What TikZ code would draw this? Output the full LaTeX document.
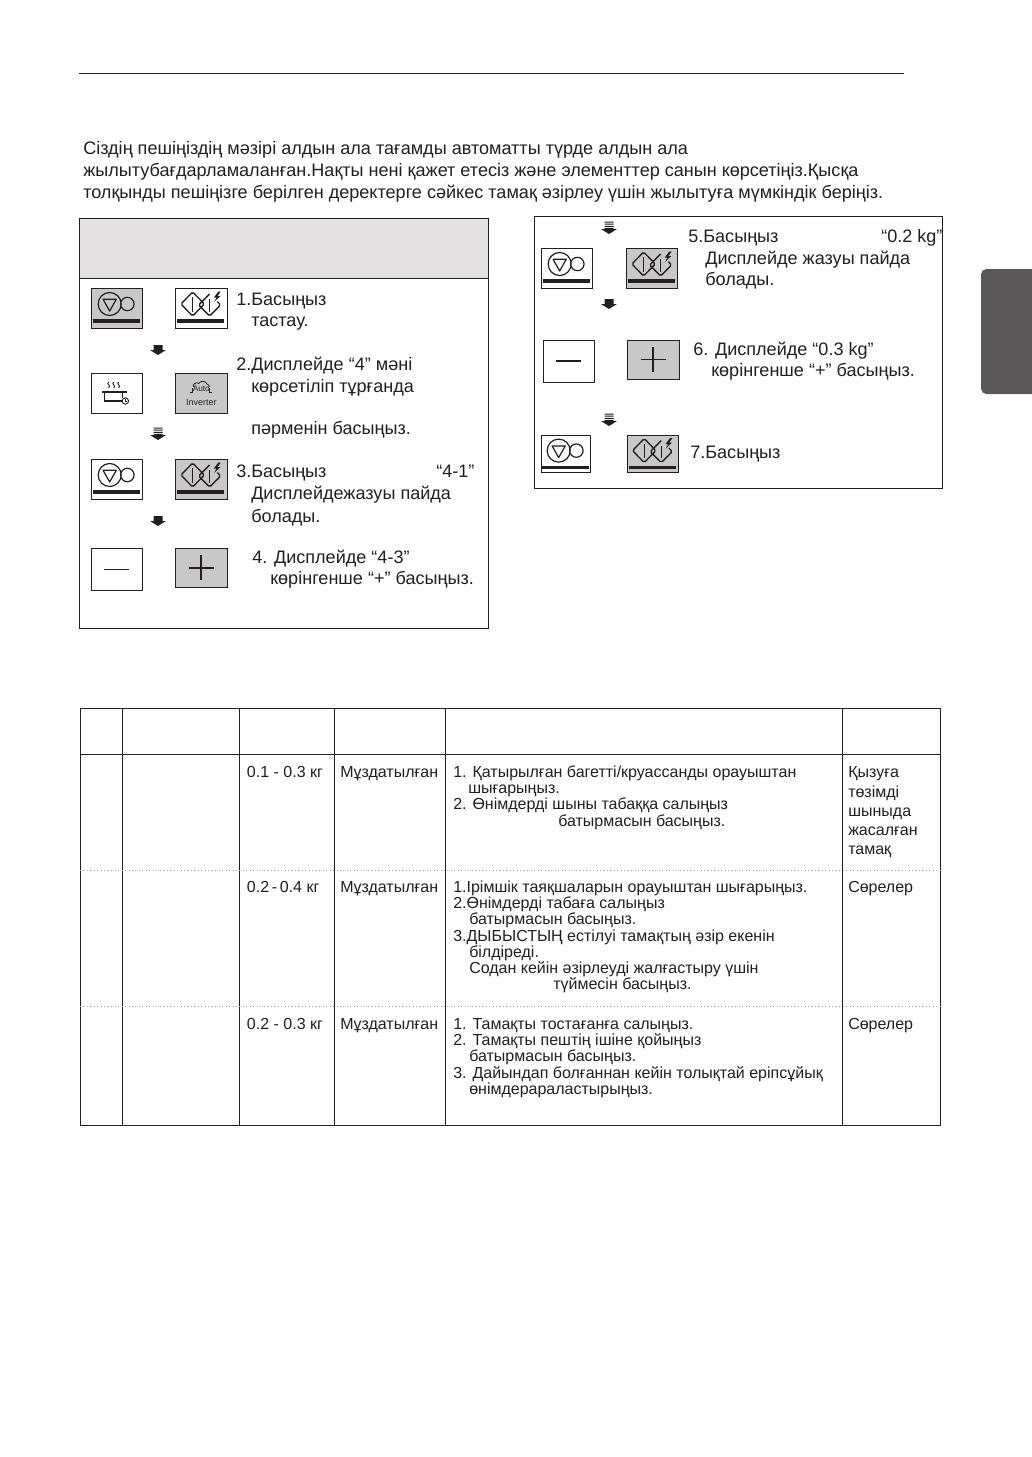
\documentclass[tikz,border=0pt]{standalone}
\usepackage{fontspec}
\setmainfont{Liberation Sans}
\usetikzlibrary{positioning}
\definecolor{ink}{HTML}{231F20}
\definecolor{btngray}{HTML}{C8C8C8}
\definecolor{headgray}{HTML}{E3E1E1}
\definecolor{tabgray}{HTML}{5B5859}
\tikzset{
  txt/.style={anchor=base west, inner sep=0pt, text=ink, font=\fontsize{13.55}{15}\selectfont},
  cell/.style={anchor=base west, inner sep=0pt, text=ink, font=\fontsize{12}{14}\selectfont},
  btn/.style={draw=ink, line width=0.7pt, anchor=north west, inner sep=0pt, outer sep=0pt, minimum width=38.5pt, minimum height=30pt},
  btnon/.style={btn, fill=btngray},
  rule/.style={draw=ink, line width=0.75pt},
  dotrule/.style={draw=gray!70, line width=0.6pt, dotted},
  stopicon/.pic={
    \draw[ink, line width=0.9pt] (-7,-4) circle[radius=11.5] (10.7,-4) circle[radius=6.7];
    \draw[ink, line width=0.9pt, line join=round] (-13.6,-8.7) -- (-0.4,-8.7) -- (-7,3) -- cycle;
    \draw[ink, line width=2.5pt] (-24,13) -- (23,13);
  },
  starticon/.pic={
    \draw[ink, line width=1pt, rounded corners=1.2pt] (8.3,-14) -- (-2.7,-3) -- (8.3,8) -- (19.3,-3) -- (16,-6.5);
    \draw[ink, line width=1pt, rounded corners=1.2pt] (-8.7,-16) -- (-20.4,-4) -- (-8.7,8) -- (3,-4) -- cycle;
    \draw[ink, line width=0.9pt] (-8.7,-11) -- (-8.7,3.5) (8.3,-9) -- (8.3,3.5);
    \fill[ink] (17,-16.5) -- (12.5,-10.5) -- (15.2,-10.5) -- (12.8,-6) -- (19,-12) -- (16.2,-12) -- (19.5,-16.5) -- cycle;
    \draw[ink, line width=2.5pt] (-24,13) -- (23,13);
  },
  poticon/.pic={
    \foreach \i in {-8,-3,2}
      \draw[ink, line width=0.7pt] (\i,-11) .. controls (\i-3,-9) and (\i+3,-7.5) .. (\i,-5);
    \draw[ink, line width=0.9pt] (-15,-1) -- (10,-1);
    \draw[ink, line width=0.9pt] (-12,-1) -- (-12,8) -- (5.5,8) (6,-1) -- (6,4.5);
    \draw[ink, line width=0.7pt] (8.7,8) circle[radius=3.2];
    \draw[ink, line width=0.5pt] (8.7,6) -- (8.7,8) -- (10.5,8);
  },
  autoicon/.pic={
    \draw[ink, line width=0.6pt] (-8,-6) .. controls (-9,-10) and (-4,-11) .. (-2.5,-9.5) .. controls (-1,-13) and (5,-12) .. (5.5,-9) .. controls (7,-9) and (8,-7.5) .. (8,-6);
    \draw[ink, line width=0.6pt] (-9,-5) -- (-9,-1) -- (-11.5,-1) (8.5,-5) -- (8.5,-1) -- (11,-1);
    \node[inner sep=0pt, text=ink, font=\fontsize{6.2}{7}\selectfont] (auto) at (0,-4) {Auto};
    \node[inner sep=0pt, text=ink, font=\fontsize{6.7}{7}\selectfont] (inverter) at (0,9) {Inverter};
  },
  minusicon/.pic={\draw[ink, line width=1.1pt] (-12.5,0) -- (12.5,0);},
  plusicon/.pic={\draw[ink, line width=1.4pt] (-12.5,0) -- (12.5,0) (0,-12.5) -- (0,12.5);},
  solidarrow/.pic={
    \fill[ink] (-4.5,-5) -- (4.5,-5) -- (4.5,0) -- (8,0) -- (0,5) -- (-8,0) -- (-4.5,0) -- cycle;
  },
  linedarrow/.pic={
    \fill[ink] (-4.5,-7.5) rectangle (4.5,-6.5) (-4.5,-5.3) rectangle (4.5,-4.3) (-4.5,-3.2) rectangle (4.5,-2);
    \fill[ink] (-4.5,-1) -- (4.5,-1) -- (4.5,0) -- (8,0) -- (0,5) -- (-8,0) -- (-4.5,0) -- cycle;
  },
}
\begin{document}
\begin{tikzpicture}[x=0.75pt, y=-0.75pt]
\useasboundingbox[fill=white] (0,0) rectangle (1032,1457);
%page
\draw[rule] (79,73) -- (904,73);
\path[fill=tabgray] (1032,269) [rounded corners=4] -- (981,269) -- (981,394) [sharp corners] -- (1032,394) -- cycle;
%intro
\node[txt] (intro1) at (83,154) {Сіздің пешіңіздің мәзірі алдын ала тағамды автоматты түрде алдын ала};
\node[txt] (intro2) at (83,176) {жылытубағдарламаланған.Нақты нені қажет етесіз және элементтер санын көрсетіңіз.Қысқа};
\node[txt] (intro3) at (83,198) {толқынды пешіңізге берілген деректерге сәйкес тамақ әзірлеу үшін жылытуға мүмкіндік беріңіз.};
%left panel
\draw[rule, fill=headgray] (79.5,218) rectangle (488,278.7);
\draw[rule] (79.5,278.7) rectangle (488,628);
\node[btnon] (btnAa) at (91,288) {};
\node[btn, right=25pt of btnAa.north east, anchor=north west] (btnAb) {};
\node[btn] (btnBa) at (91,373) {};
\node[btnon, right=25pt of btnBa.north east, anchor=north west] (btnBb) {};
\node[btn] (btnCa) at (91,459) {};
\node[btnon, right=25pt of btnCa.north east, anchor=north west] (btnCb) {};
\node[btn, minimum height=32pt] (btnDa) at (91,548) {};
\node[btnon, minimum height=29.5pt, right=25pt of btnDa.north east, anchor=north west] (btnDb) {};
\pic at (btnAa) {stopicon};
\pic at (btnAb) {starticon};
\pic at (btnBa) {poticon};
\pic (ai) at (btnBb) {autoicon};
\pic at (btnCa) {stopicon};
\pic at (btnCb) {starticon};
\pic at (btnDa) {minusicon};
\pic at (btnDb) {plusicon};
\pic at (158,350) {solidarrow};
\pic at (158,435) {linedarrow};
\pic at (158,521) {solidarrow};
\node[txt] (step1a) at (236,305) {1.Басыңыз};
\node[txt] (step1b) at (251,326) {тастау.};
\node[txt] (step2a) at (236,370) {2.Дисплейде “4” мәні};
\node[txt] (step2b) at (251,392) {көрсетіліп тұрғанда};
\node[txt] (step2c) at (251,434) {пәрменін басыңыз.};
\node[txt] (step3a) at (236,477) {3.Басыңыз};
\node[txt] (step3b) at (436,477) {“4-1”};
\node[txt] (step3c) at (251,499) {Дисплейдежазуы пайда};
\node[txt] (step3d) at (251,522) {болады.};
\node[txt] (step4a) at (252,563) {4. Дисплейде “4-3”};
\node[txt] (step4b) at (270,584) {көрінгенше “+” басыңыз.};
%right panel
\draw[rule] (534.5,216) rectangle (942.7,488);
\node[btn] (btnEa) at (541,248) {};
\node[btnon, right=25.7pt of btnEa.north east, anchor=north west] (btnEb) {};
\node[btn, minimum height=31.5pt] (btnFa) at (543,340) {};
\node[btnon, minimum height=29.3pt, right=25pt of btnFa.north east, anchor=north west] (btnFb) {};
\node[btn, minimum width=37pt, minimum height=28pt] (btnGa) at (541,435) {};
\node[btnon, minimum height=28pt, right=27.7pt of btnGa.north east, anchor=north west] (btnGb) {};
\pic at (btnEa) {stopicon};
\pic at (btnEb) {starticon};
\pic at (btnFa) {minusicon};
\pic at (btnFb) {plusicon};
\pic[yshift=-0.7pt] at (btnGa) {stopicon};
\pic[yshift=-0.7pt] at (btnGb) {starticon};
\pic at (609,229) {linedarrow};
\pic at (609,304) {solidarrow};
\pic at (609,421) {linedarrow};
\node[txt] (step5a) at (688,242) {5.Басыңыз};
\node[txt] (step5b) at (881,242) {“0.2 kg”};
\node[txt] (step5c) at (705,264) {Дисплейде жазуы пайда};
\node[txt] (step5d) at (705,285) {болады.};
\node[txt] (step6a) at (693,355) {6. Дисплейде “0.3 kg”};
\node[txt] (step6b) at (711,376) {көрінгенше “+” басыңыз.};
\node[txt] (step7a) at (690,458) {7.Басыңыз};
%table
\draw[rule] (80,708.3) rectangle (940.3,1125);
\draw[rule] (80,754) -- (940.3,754);
\foreach \x in {122.7,239.3,334.3,445.3,842.3}
  \draw[rule] (\x,708.3) -- (\x,1125);
\draw[dotrule] (80,870) -- (940.3,870);
\draw[dotrule] (80,1006) -- (940.3,1006);
%row one
\node[cell] (wtA) at (246.7,777) {0.1 - 0.3 кг};
\node[cell] (tmA) at (340,777) {Мұздатылған};
\node[cell] (insA1) at (453,777) {1. Қатырылған багетті/круассанды орауыштан};
\node[cell] (insA2) at (468,793) {шығарыңыз.};
\node[cell] (insA3) at (453,809) {2. Өнімдерді шыны табаққа салыңыз};
\node[cell] (insA4) at (558,826) {батырмасын басыңыз.};
\node[cell] (noteA1) at (848,777) {Қызуға};
\node[cell] (noteA2) at (848,797) {төзімді};
\node[cell] (noteA3) at (848,816) {шыныда};
\node[cell] (noteA4) at (848,835) {жасалған};
\node[cell] (noteA5) at (848,854) {тамақ};
%row two
\node[cell] (wtB) at (246.7,892) {0.2\,-\,0.4 кг};
\node[cell] (tmB) at (340,892) {Мұздатылған};
\node[cell] (insB1) at (453,892) {1.Ірімшік таяқшаларын орауыштан шығарыңыз.};
\node[cell] (insB2) at (453,908) {2.Өнімдерді табаға салыңыз};
\node[cell] (insB3) at (469,924) {батырмасын басыңыз.};
\node[cell] (insB4) at (453,941) {3.ДЫБЫСТЫҢ естілуі тамақтың әзір екенін};
\node[cell] (insB5) at (469,957) {білдіреді.};
\node[cell] (insB6) at (469,973) {Содан кейін әзірлеуді жалғастыру үшін};
\node[cell] (insB7) at (553,989) {түймесін басыңыз.};
\node[cell] (noteB) at (848,892) {Сөрелер};
%row three
\node[cell] (wtC) at (246.7,1029) {0.2 - 0.3 кг};
\node[cell] (tmC) at (340,1029) {Мұздатылған};
\node[cell] (insC1) at (453,1029) {1. Тамақты тостағанға салыңыз.};
\node[cell] (insC2) at (453,1045) {2. Тамақты пештің ішіне қойыңыз};
\node[cell] (insC3) at (469,1061) {батырмасын басыңыз.};
\node[cell] (insC4) at (453,1078) {3. Дайындап болғаннан кейін толықтай ерiпсұйық};
\node[cell] (insC5) at (469,1094) {өнімдерараластырыңыз.};
\node[cell] (noteC) at (848,1029) {Сөрелер};
\end{tikzpicture}
\end{document}
